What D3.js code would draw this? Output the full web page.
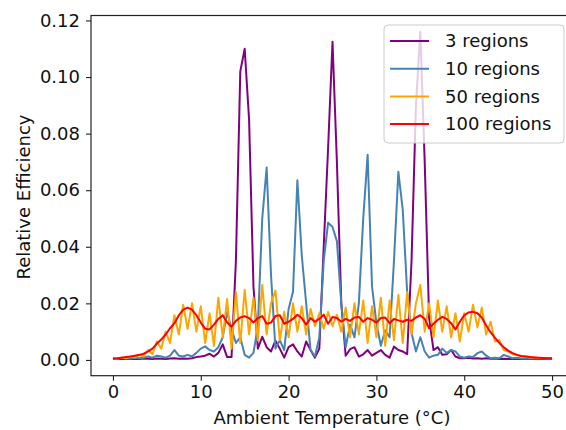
<!DOCTYPE html>
<html>
<head>
<meta charset="utf-8">
<script src="https://cdn.jsdelivr.net/npm/d3@7"></script>
<style>
  body { margin: 0; background: #fff; }
  svg { display: block; font-family: "DejaVu Sans", sans-serif; }
</style>
</head>
<body>
<svg id="chart" width="566" height="430"></svg>
<script>
// ambient temperature grid (°C), one sample every 0.5
const temps = d3.range(0, 50.5, 0.5);

const regions3 = [
  0.0003, 0.0003, 0.0003, 0.0004, 0.0003, 0.0004, 0.0003, 0.0005, 0.0004, 0.0003,
  0.0005, 0.0004, 0.0003, 0.0005, 0.0006, 0.0004, 0.0005, 0.0004, 0.0006, 0.001,
  0.0012, 0.0015, 0.0022, 0.0012, 0.0025, 0.0055, 0.001, 0.001, 0.035, 0.102,
  0.110, 0.085, 0.026, 0.004, 0.0082, 0.0045, 0.003, 0.0068, 0.004, 0.0008,
  0.0045, 0.0055, 0.003, 0.0012, 0.0065, 0.0035, 0.0008, 0.004, 0.04, 0.075,
  0.1125, 0.07, 0.02, 0.0015, 0.0038, 0.0045, 0.0012, 0.002, 0.0035, 0.0015,
  0.0025, 0.0035, 0.0018, 0.0008, 0.0047, 0.0035, 0.003, 0.002, 0.035, 0.09,
  0.116, 0.07, 0.015, 0.0035, 0.0045, 0.0018, 0.002, 0.0035, 0.0012, 0.0006,
  0.0006, 0.0008, 0.0005, 0.0006, 0.0004, 0.0006, 0.0004, 0.0005, 0.0003, 0.0004,
  0.0003, 0.0003, 0.0004, 0.0003, 0.0003, 0.0003, 0.0004, 0.0003, 0.0003, 0.0003,
  0.0003,
];

const regions10 = [
  0.0005, 0.0005, 0.0008, 0.0006, 0.0005, 0.0008, 0.0006, 0.0008, 0.0012, 0.0008,
  0.0015, 0.0012, 0.0008, 0.0015, 0.0035, 0.0015, 0.0012, 0.0018, 0.0012, 0.0025,
  0.004, 0.0048, 0.0035, 0.003, 0.0045, 0.008, 0.017, 0.011, 0.006, 0.008,
  0.0018, 0.0008, 0.0025, 0.012, 0.05, 0.068, 0.03, 0.004, 0.007, 0.0035,
  0.018, 0.024, 0.0635, 0.037, 0.02, 0.0035, 0.0012, 0.008, 0.035, 0.0485,
  0.047, 0.042, 0.02, 0.0045, 0.0125, 0.008, 0.02, 0.05, 0.0725, 0.026,
  0.013, 0.005, 0.0105, 0.008, 0.035, 0.0665, 0.053, 0.024, 0.0095, 0.003,
  0.008, 0.003, 0.0008, 0.0015, 0.0018, 0.004, 0.0025, 0.0035, 0.003, 0.0012,
  0.0008, 0.0012, 0.001, 0.0024, 0.003, 0.0015, 0.0006, 0.0008, 0.0006, 0.0018,
  0.0012, 0.0006, 0.0008, 0.0005, 0.0006, 0.0005, 0.0006, 0.0005, 0.0005, 0.0006,
  0.0005,
];

const regions50 = [
  0.0005, 0.0005, 0.0008, 0.0006, 0.0012, 0.0009, 0.0018, 0.0012, 0.0035, 0.002,
  0.0065, 0.004, 0.01, 0.006, 0.0158, 0.009, 0.0195, 0.011, 0.02, 0.01,
  0.019, 0.006, 0.0165, 0.005, 0.022, 0.008, 0.0215, 0.004, 0.024, 0.006,
  0.0248, 0.009, 0.022, 0.007, 0.0265, 0.009, 0.02, 0.0245, 0.007, 0.017,
  0.008, 0.02, 0.01, 0.019, 0.009, 0.018, 0.012, 0.0165, 0.011, 0.017,
  0.012, 0.016, 0.01, 0.0185, 0.008, 0.02, 0.009, 0.021, 0.006, 0.019,
  0.008, 0.022, 0.005, 0.021, 0.007, 0.023, 0.006, 0.024, 0.009, 0.02,
  0.0265, 0.01, 0.02, 0.008, 0.021, 0.01, 0.019, 0.008, 0.0165, 0.0065,
  0.0165, 0.01, 0.0195, 0.0115, 0.0185, 0.009, 0.0135, 0.0065, 0.007, 0.0035,
  0.003, 0.002, 0.0018, 0.0012, 0.0012, 0.0009, 0.0009, 0.0007, 0.0007, 0.0006,
  0.0006,
];

const regions100 = [
  0.0005, 0.0006, 0.0008, 0.001, 0.0012, 0.0015, 0.0018, 0.0022, 0.003, 0.004,
  0.0058, 0.0072, 0.009, 0.0112, 0.013, 0.0158, 0.0178, 0.0185, 0.0178, 0.0158,
  0.0132, 0.011, 0.0108, 0.0125, 0.0145, 0.0158, 0.0132, 0.0118, 0.0138, 0.015,
  0.0155, 0.0148, 0.0132, 0.0148, 0.0155, 0.0128, 0.0132, 0.0155, 0.0158, 0.0128,
  0.0135, 0.0145, 0.016, 0.0148, 0.0125, 0.0148, 0.0135, 0.0145, 0.016, 0.0128,
  0.0152, 0.0148, 0.0135, 0.0145, 0.0138, 0.015, 0.0152, 0.0135, 0.0148, 0.0142,
  0.0132, 0.0148, 0.015, 0.013, 0.0145, 0.014, 0.0135, 0.0142, 0.0138, 0.015,
  0.0158, 0.0145, 0.0112, 0.0128, 0.0142, 0.0152, 0.0145, 0.013, 0.0108, 0.0135,
  0.0158, 0.0168, 0.017, 0.0165, 0.015, 0.0122, 0.0098, 0.0078, 0.006, 0.0045,
  0.0033, 0.0024, 0.0018, 0.0014, 0.0012, 0.001, 0.0009, 0.0008, 0.0007, 0.0006,
  0.0006,
];

const seriesLabels = ["3 regions", "10 regions", "50 regions", "100 regions"];
const seriesColors = ["purple", "steelblue", "orange", "red"];
const seriesValues = [regions3, regions10, regions50, regions100];

const xTicks = [0, 10, 20, 30, 40, 50];
const yTicks = [0, 0.02, 0.04, 0.06, 0.08, 0.1, 0.12];

const svg = d3.select("#chart");
const m = { left: 91, top: 15.5, bottom: 375.7, right: 574 };

// matplotlib-style 5% margins around the data range
const x = d3.scaleLinear().domain([-2.5, 52.5]).range([m.left, m.right]);
const y = d3.scaleLinear().domain([-0.00557, 0.12175]).range([m.bottom, m.top]);

const plot = svg.append("g");
const line = (vals) =>
  d3.line().x((d, i) => x(temps[i])).y((d) => y(d))(vals);

plot.selectAll("path.series")
  .data(seriesValues)
  .join("path")
  .attr("class", "series")
  .attr("d", line)
  .attr("fill", "none")
  .attr("stroke", (d, i) => seriesColors[i])
  .attr("stroke-width", 2)
  .attr("stroke-linejoin", "round");

// axes
const xAxis = svg.append("g")
  .attr("transform", `translate(0,${m.bottom})`)
  .call(d3.axisBottom(x).tickValues(xTicks).tickFormat(d3.format("d")).tickSize(5).tickPadding(5));
const yAxis = svg.append("g")
  .attr("transform", `translate(${m.left},0)`)
  .call(d3.axisLeft(y).tickValues(yTicks).tickFormat(d3.format(".2f")).tickSize(5).tickPadding(6));

for (const ax of [xAxis, yAxis]) {
  ax.select(".domain").remove();
  ax.selectAll("line").attr("stroke", "#222").attr("stroke-width", 1.1);
  ax.selectAll("text").attr("fill", "#111").style("font-size", "18px")
    .style("font-family", "DejaVu Sans, sans-serif");
}

// frame
svg.append("rect")
  .attr("x", m.left).attr("y", m.top)
  .attr("width", m.right - m.left).attr("height", m.bottom - m.top)
  .attr("fill", "none").attr("stroke", "#222").attr("stroke-width", 1.2);

// axis labels
svg.append("text")
  .attr("x", 332).attr("y", 424)
  .attr("text-anchor", "middle")
  .attr("fill", "#111")
  .style("font-size", "18px")
  .text("Ambient Temperature (°C)");

svg.append("text")
  .attr("transform", "translate(23,197) rotate(-90)")
  .attr("text-anchor", "middle")
  .attr("dominant-baseline", "central")
  .attr("fill", "#111")
  .style("font-size", "18px")
  .text("Relative Efficiency");

// legend
const legend = svg.append("g");
legend.append("rect")
  .attr("x", 384).attr("y", 25).attr("width", 180).attr("height", 118)
  .attr("rx", 4)
  .attr("fill", "white").attr("fill-opacity", 0.8)
  .attr("stroke", "#ccc");

const rows = legend.selectAll("g.item")
  .data(seriesLabels)
  .join("g")
  .attr("class", "item")
  .attr("transform", (d, i) => `translate(0,${41 + i * 27.7})`);
rows.append("line")
  .attr("x1", 390).attr("x2", 429)
  .attr("stroke", (d, i) => seriesColors[i])
  .attr("stroke-width", 2);
rows.append("text")
  .attr("x", 445).attr("dy", "0.35em")
  .attr("fill", "#111")
  .style("font-size", "18px")
  .text((d) => d);
</script>
</body>
</html>
